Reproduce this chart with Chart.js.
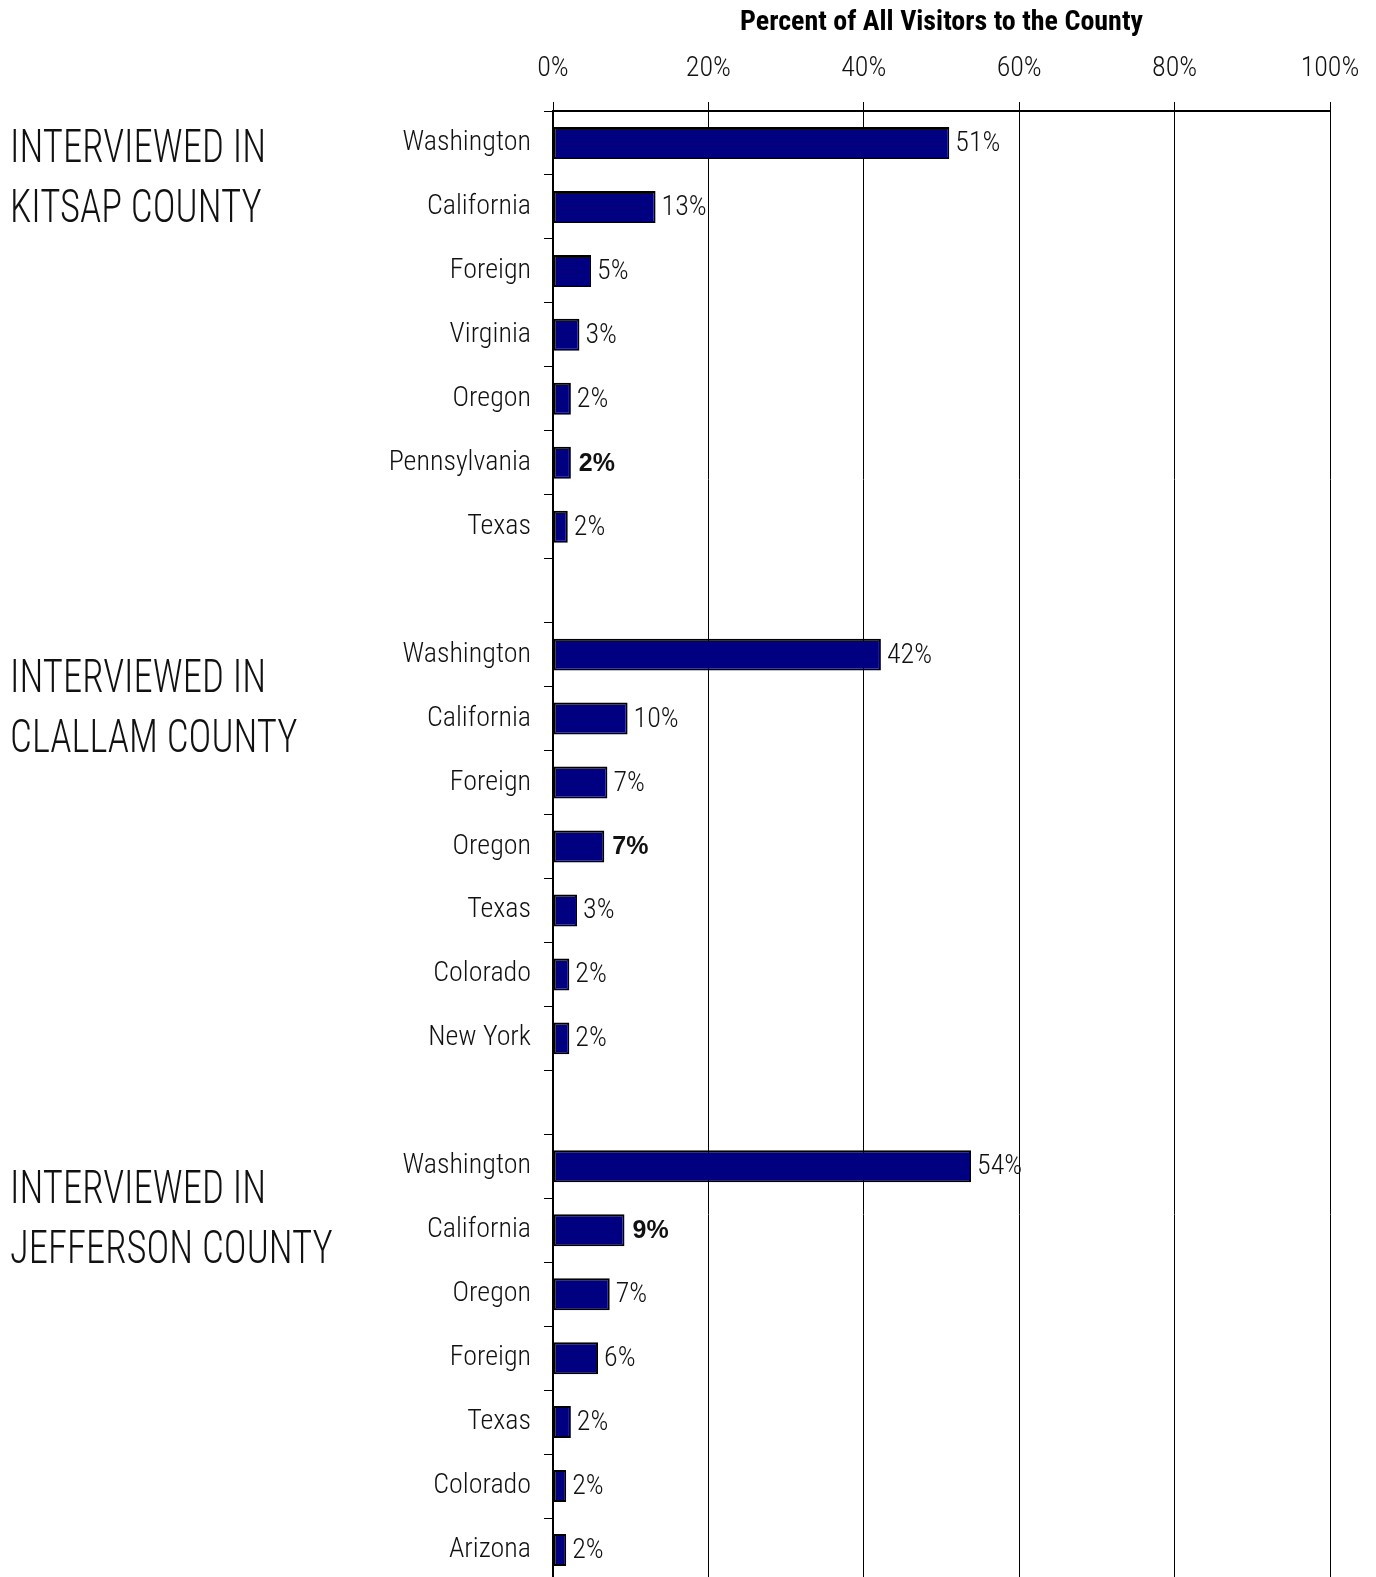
<!DOCTYPE html>
<html>
<head>
<meta charset="utf-8">
<script src="https://cdn.jsdelivr.net/npm/chart.js@4.4.1/dist/chart.umd.min.js"></script>
<style>
  html, body { margin: 0; padding: 0; background: #fff; overflow: hidden; }
  /* the last row runs a few pixels past the bottom of the window, as in the original */
  #wrap { width: 1376px; height: 1584px; position: relative; }
</style>
</head>
<body>
<div id="wrap"><canvas id="chart"></canvas></div>
<script>
// Origin state of visitors, per county where they were interviewed.
const kitsapStates = ['Washington', 'California', 'Foreign', 'Virginia', 'Oregon', 'Pennsylvania', 'Texas'];
const kitsapValues = [51, 13.2, 4.9, 3.4, 2.3, 2.3, 1.9];
const kitsapBold = [5];

const clallamStates = ['Washington', 'California', 'Foreign', 'Oregon', 'Texas', 'Colorado', 'New York'];
const clallamValues = [42.2, 9.6, 7.0, 6.6, 3.1, 2.1, 2.1];
const clallamBold = [3];

const jeffersonStates = ['Washington', 'California', 'Oregon', 'Foreign', 'Texas', 'Colorado', 'Arizona'];
const jeffersonValues = [53.8, 9.2, 7.3, 5.8, 2.3, 1.7, 1.7];
const jeffersonBold = [1];

const groupTitles = [
    ['INTERVIEWED IN', 'KITSAP COUNTY'],
    ['INTERVIEWED IN', 'CLALLAM COUNTY'],
    ['INTERVIEWED IN', 'JEFFERSON COUNTY'],
];
const xTicks = [0, 20, 40, 60, 80, 100];
const axisTitle = 'Percent of All Visitors to the County';

const NAVY = '#000080';
const NARROW = "'Roboto Condensed', 'DejaVu Sans Condensed', sans-serif";

// one empty slot between the groups
const labels = [...kitsapStates, '', ...clallamStates, '', ...jeffersonStates];
const values = [...kitsapValues, null, ...clallamValues, null, ...jeffersonValues];
const groupStart = [0, kitsapStates.length + 1, kitsapStates.length + clallamStates.length + 2];
const boldIdx = new Set([
    ...kitsapBold.map(i => i + groupStart[0]),
    ...clallamBold.map(i => i + groupStart[1]),
    ...jeffersonBold.map(i => i + groupStart[2]),
]);

const valueLabels = {
    id: 'valueLabels',
    afterDatasetsDraw(chart) {
        const { ctx } = chart;
        const meta = chart.getDatasetMeta(0);
        ctx.save();
        ctx.fillStyle = '#111';
        ctx.textBaseline = 'middle';
        meta.data.forEach((bar, i) => {
            const v = values[i];
            if (v == null) return;
            const bold = boldIdx.has(i);
            ctx.font = bold ? `bold 25px 'Liberation Sans', Arial, sans-serif` : `300 28px ${NARROW}`;
            ctx.fillText(Math.round(v) + '%', bar.x + (bold ? 8 : 6), bar.y + 1);
        });
        ctx.restore();
    },
};

// big county captions on the left, squeezed to the width of the original lettering
const groupLabels = {
    id: 'groupLabels',
    afterDraw(chart) {
        const { ctx } = chart;
        const y = chart.scales.y;
        const shift = [18.7, 37, 37];
        ctx.save();
        ctx.fillStyle = '#111';
        ctx.textBaseline = 'alphabetic';
        ctx.font = `300 47px ${NARROW}`;
        const squeeze = 256 / ctx.measureText('INTERVIEWED IN').width;
        groupTitles.forEach((lines, g) => {
            const base = y.getPixelForValue(groupStart[g]) + shift[g];
            lines.forEach((line, k) => {
                ctx.save();
                ctx.translate(10, base + k * 60);
                ctx.scale(squeeze, 1);
                ctx.fillText(line, 0, 0);
                ctx.restore();
            });
        });
        ctx.restore();
    },
};

new Chart(document.getElementById('chart'), {
    type: 'bar',
    data: {
        labels,
        datasets: [{
            data: values,
            backgroundColor: NAVY,
            borderColor: '#000',
            borderWidth: 2,
            borderSkipped: false,
            categoryPercentage: 0.5,
            barPercentage: 1,
        }],
    },
    options: {
        indexAxis: 'y',
        responsive: true,
        maintainAspectRatio: false,
        animation: false,
        devicePixelRatio: 1,
        layout: { padding: { left: 0, right: 46, top: 0, bottom: 2 } },
        plugins: {
            legend: { display: false },
            tooltip: { enabled: false },
        },
        scales: {
            x: {
                position: 'top',
                min: 0,
                max: 100,
                afterBuildTicks: (scale) => { scale.ticks = xTicks.map(v => ({ value: v })); },
                afterFit: (scale) => { scale.height = 111; },
                ticks: {
                    callback: (v) => v + '%',
                    color: '#111',
                    padding: 16,
                    font: { family: NARROW, size: 28, weight: '300' },
                },
                grid: { color: '#000', lineWidth: 1, tickLength: 9 },
                border: { color: '#000', width: 2 },
                title: {
                    display: true,
                    text: axisTitle,
                    color: '#000',
                    font: { family: NARROW, size: 28, weight: 'bold' },
                    padding: { top: 6, bottom: 0 },
                },
            },
            y: {
                afterFit: (scale) => {
                    scale.width = 553;
                    scale.paddingTop = 0;
                    scale.paddingBottom = 0;
                },
                ticks: {
                    color: '#111',
                    padding: 13,
                    font: { family: NARROW, size: 28, weight: '300' },
                },
                grid: { offset: true, drawOnChartArea: false, color: '#000', tickLength: 9 },
                border: { color: '#000', width: 2 },
            },
        },
    },
    plugins: [valueLabels, groupLabels],
});
</script>
</body>
</html>
